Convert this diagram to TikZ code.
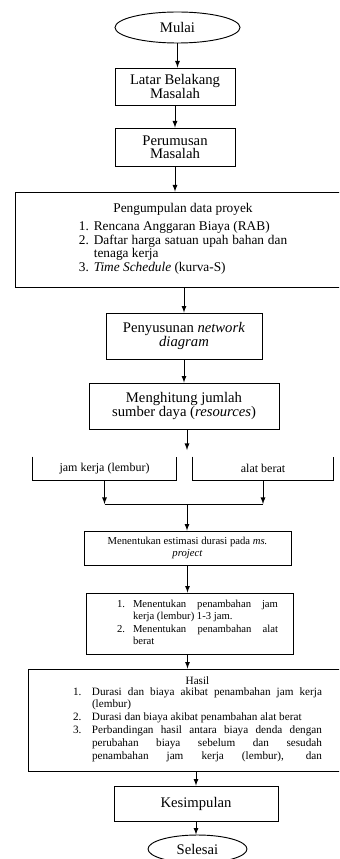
\documentclass[tikz,border=0pt]{standalone}
\usepackage{fontspec}
\setmainfont{Liberation Serif}
\usepackage{array}
\usepackage{tikz}
\usetikzlibrary{shapes.geometric}
\hyphenpenalty=10000
\exhyphenpenalty=10000
\newcommand{\sizebox}{\fontsize{11}{10}\selectfont}
\newcommand{\sizedata}{\fontsize{10}{10.2}\selectfont}
\newcommand{\sizestep}{\fontsize{8}{9.2}\selectfont}
\newcommand{\sizehasil}{\fontsize{8.4}{9.6}\selectfont}
\newcommand{\widthsmall}{90pt}
\newcommand{\widthwide}{252pt}
\tikzset{
    common/.style={draw, rectangle, align=center, inner sep=1pt, font=\sizebox},
    terminal/.style={draw, ellipse, inner sep=0pt, font=\sizebox},
    step-box/.style={common, font=\sizestep},
    open-box/.style={common, draw=none, font=\fontsize{9}{9.5}\selectfont},
    flow/.style={->, >=latex}
}
\begin{document}
\begin{tikzpicture}[x=0.75pt, y=-0.75pt, line width=0.7pt]
    \useasboundingbox (0,0) rectangle (339,859);
    \clip (0,0) rectangle (339,859);

    \node[terminal, minimum width=93.75pt, minimum height=23.25pt] (mulai) at (177.5,27.5) {Mulai};
    \node[common, minimum width=\widthsmall, minimum height=27.75pt] (latar) at (175,86.5) {Latar Belakang\\Masalah};
    \node[common, minimum width=\widthsmall, minimum height=28.5pt] (rumusan) at (175,147) {Perumusan\\Masalah};
    \node[common, font=\sizedata, minimum width=\widthwide, minimum height=71.25pt] (data) at (183,239.5) {Pengumpulan data proyek\\[3pt]
        \begin{tabular}{@{}p{11.25pt}@{}p{145pt}@{}}
            1. & Rencana Anggaran Biaya (RAB)\\
            2. & Daftar harga satuan upah bahan dan tenaga kerja\\
            3. & \textit{Time Schedule} (kurva-S)
        \end{tabular}};
    \node[common, minimum width=117pt, minimum height=34.5pt] (network) at (184,336) {Penyusunan \textit{network}\\\textit{diagram}};
    \node[common, minimum width=142.5pt, minimum height=34.5pt] (sumber-daya) at (184,406) {Menghitung jumlah\\sumber daya (\textit{resources})};
    \coordinate (split) at (187,450);

    \node[open-box, minimum width=107.25pt, minimum height=17.25pt] (lembur) at (104.5,468.5) {jam kerja (lembur)};
    \node[open-box, minimum width=105pt, minimum height=17.25pt] (alat-berat) at (263,468.5) {alat berat};
    \draw (lembur.north west) -- (lembur.south west) -- (lembur.south east) -- (lembur.north east);
    \draw (alat-berat.north west) -- (alat-berat.south west) -- (alat-berat.south east) -- (alat-berat.north east);
    \coordinate (join) at (187,504);

    \node[step-box, minimum width=155.25pt, minimum height=25.5pt] (estimasi) at (187.5,548) {Menentukan estimasi durasi pada \textit{ms.}\\\textit{project}};
    \node[step-box, minimum width=155.25pt, minimum height=45.75pt] (tambahan) at (189.5,623.5) {%
        \begin{tabular}{@{\hspace{12pt}}p{12pt}@{}p{108.75pt}@{}}
            1. & Menentukan penambahan jam\linebreak kerja (lembur) 1-3 jam.\\
            2. & Menentukan penambahan alat\linebreak berat
        \end{tabular}};
    \node[common, font=\sizehasil, minimum width=254pt, minimum height=76.5pt] (hasil) at (197.5,720) {Hasil\\
        \begin{tabular}{@{}p{14.25pt}@{}p{172.5pt}@{}}
            1. & Durasi dan biaya akibat penambahan jam kerja (lembur)\\
            2. & Durasi dan biaya akibat penambahan alat berat\\
            3. & Perbandingan hasil antara biaya denda dengan\linebreak perubahan biaya sebelum dan sesudah\linebreak penambahan jam kerja (lembur), dan\parfillskip=0pt
        \end{tabular}};
    \node[common, minimum width=123pt, minimum height=26.25pt] (kesimpulan) at (196,803.5) {Kesimpulan};
    \node[terminal, minimum width=74.25pt, minimum height=21pt] (selesai) at (197.5,849) {Selesai};

    \draw[flow] (mulai.south) -- (mulai.south |- latar.north);
    \draw[flow] (latar.south) -- (latar.south |- rumusan.north);
    \draw[flow] (rumusan.south) -- (rumusan.south |- data.north);
    \draw[flow] (data.south -| network.south) -- (network.north);
    \draw[flow] (network.south) -- (network.south |- sumber-daya.north);
    \draw[flow] (split |- sumber-daya.south) -- (split);
    \draw[flow] (lembur.south) -- (lembur.south |- join);
    \draw[flow] (alat-berat.south) -- (alat-berat.south |- join);
    \draw (lembur.south |- join) -- (alat-berat.south |- join);
    \draw[flow] (join) -- (join |- estimasi.north);
    \draw[flow] (estimasi.south) -- (estimasi.south |- tambahan.north);
    \draw[flow] (tambahan.south -| estimasi.south) -- (estimasi.south |- hasil.north);
    \draw[flow] (hasil.south -| kesimpulan.south) -- (kesimpulan.north);
    \draw[flow] (kesimpulan.south) -- (kesimpulan.south |- selesai.north);
\end{tikzpicture}
\end{document}
